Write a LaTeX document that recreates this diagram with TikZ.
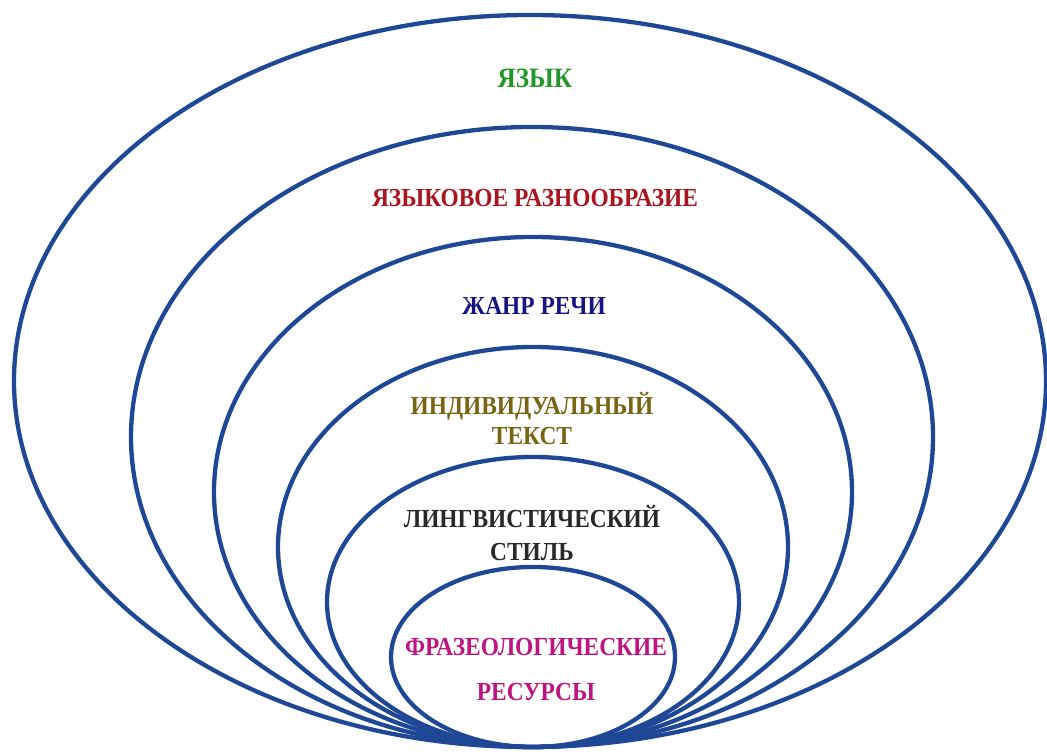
\documentclass[tikz,border=0pt]{standalone}
\usepackage{fontspec}
\setmainfont{Liberation Serif}[FakeStretch=0.9]
\usepackage{tikz}

\definecolor{ringblue}{RGB}{30,72,150}
\definecolor{langgreen}{RGB}{34,150,40}
\definecolor{varred}{RGB}{170,20,30}
\definecolor{genrenavy}{RGB}{20,20,130}
\definecolor{textolive}{RGB}{120,100,20}
\definecolor{stylegray}{RGB}{40,40,40}
\definecolor{phrasemag}{RGB}{190,20,130}

\tikzset{
  ring/.style={draw=ringblue,line width=4.3pt},
  lbl/.style={font=\bfseries\fontsize{26}{30}\selectfont,align=center,inner sep=0pt}
}

\begin{document}
\begin{tikzpicture}[x=1pt,y=1pt]
\useasboundingbox (0,0) rectangle (1047,754);
% nested rings, all touching at the bottom
\foreach \cx/\a/\b in {530/516/366, 532/401/310, 533/319/255, 533/255/200, 533/206/145, 533/142/90}
  \draw[ring] (\cx,7+\b) ellipse [x radius=\a, y radius=\b];
% labels
\node[lbl,text=langgreen,font=\bfseries\fontsize{28}{30}\selectfont] (lang) at (535,676) {ЯЗЫК};
\node[lbl,text=varred] (variety) at (535,556) {ЯЗЫКОВОЕ РАЗНООБРАЗИЕ};
\node[lbl,text=genrenavy] (genre) at (534,448) {ЖАНР РЕЧИ};
\node[lbl,text=textolive] (indtext) at (532,335) {ИНДИВИДУАЛЬНЫЙ\\ТЕКСТ};
\node[lbl,text=stylegray] (lingstyle) at (532,221) {ЛИНГВИСТИЧЕСКИЙ\\[3pt]СТИЛЬ};
\node[lbl,text=phrasemag] (phrase) at (536,84) {ФРАЗЕОЛОГИЧЕСКИЕ\\[15pt]РЕСУРСЫ};
\end{tikzpicture}
\end{document}
